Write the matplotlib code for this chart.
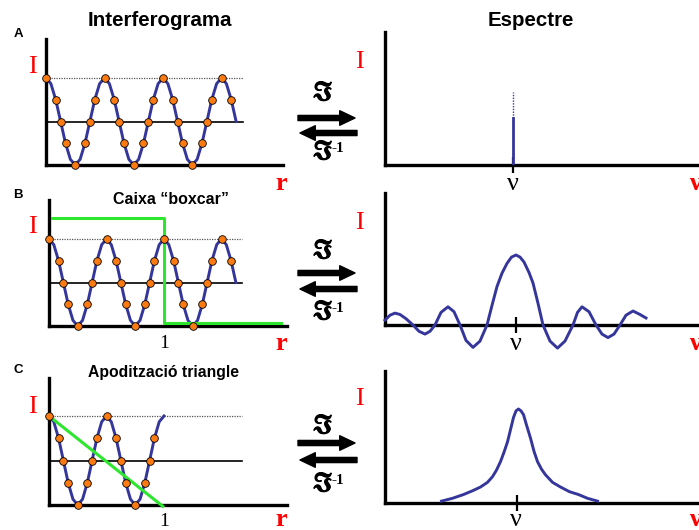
import numpy as np
import matplotlib.pyplot as plt
import matplotlib.patheffects as pe

plt.rcParams['mathtext.fontset'] = 'stix'

W, H = 699, 530

# Interferogrames (I en funció de r)
wave_level_ab = [2, 1.87, 1.5, 1, 0.5, 0.13, 0, 0.13, 0.5, 1, 1.5, 1.87] * 3 + [2, 1.87, 1.5, 1]
wave_r_ab = np.linspace(0, 1.625, len(wave_level_ab))
wave_level_c = [2, 1.87, 1.5, 1, 0.5, 0.13, 0, 0.13, 0.5, 1, 1.5, 1.87] * 2 + [2]
wave_r_c = np.linspace(0, 1.0, len(wave_level_c))

dot_r_ab = [0, 0.083, 0.125, 0.167, 0.25, 0.333, 0.375, 0.417,
            0.5, 0.583, 0.625, 0.667, 0.75, 0.833, 0.875, 0.917,
            1.0, 1.083, 1.125, 1.167, 1.25, 1.333, 1.375, 1.417,
            1.5, 1.583]
dot_level_ab = [2, 1.5, 1, 0.5, 0, 0.5, 1, 1.5] * 3 + [2, 1.5]
dot_r_c = dot_r_ab[:16]
dot_level_c = dot_level_ab[:16]

ref_r_end = 1.68

# funcions d'apodització
box_r = [0.03, 1.0, 1.0, 2.02]
box_level = [2.48, 2.48, 0.07, 0.07]
tri_r = [0, 0.99]
tri_level = [2.0, -0.03]

# Espectres
spike_solid = 0.67
spike_top = 1.04

sinc_nu = [-13.1, -12.6, -12.1, -11.6, -11.0, -10.3, -9.7, -9.1, -8.6, -8.1,
           -7.5, -6.8, -6.2, -5.6, -5.0, -4.3, -3.6, -2.9, -2.4, -1.9,
           -1.4, -0.9, -0.45, 0.0, 0.4, 0.8, 1.3, 1.7, 2.2, 2.7,
           3.4, 4.15, 4.9, 5.7, 6.15, 6.6, 7.3, 8.0, 8.6, 9.2,
           9.8, 10.4, 11.0, 11.7, 12.4, 13.0]
sinc_int = [0.07, 0.14, 0.17, 0.15, 0.09, 0.0, -0.09, -0.13, -0.09, 0.0,
            0.18, 0.26, 0.19, 0.0, -0.22, -0.32, -0.23, 0.0, 0.28, 0.55,
            0.74, 0.88, 0.97, 1.0, 0.97, 0.9, 0.75, 0.6, 0.31, 0.0,
            -0.23, -0.33, -0.23, 0.0, 0.18, 0.26, 0.19, 0.0, -0.13, -0.18,
            -0.13, 0.0, 0.14, 0.20, 0.15, 0.10]

lor_nu = [-7.5, -6.4, -5.3, -4.4, -3.6, -2.9, -2.4, -2.0, -1.6, -1.25,
          -0.9, -0.6, -0.3, -0.05, 0.2, 0.45, 0.7, 1.0, 1.4, 1.75,
          2.1, 2.5, 2.9, 3.6, 4.4, 5.3, 6.2, 7.1, 8.1]
lor_int = [0.02, 0.05, 0.09, 0.13, 0.17, 0.22, 0.28, 0.35, 0.44, 0.54,
           0.65, 0.78, 0.91, 0.98, 1.0, 0.98, 0.94, 0.83, 0.69, 0.55,
           0.44, 0.36, 0.30, 0.22, 0.17, 0.12, 0.09, 0.05, 0.02]

BLUE = '#35369b'
ORANGE = '#fb7a12'
GREEN = '#2ee62e'
RED = '#ff0000'


def fx(x):
    return x / W


def fy(y):
    return 1 - y / H


def make_axes(fig, x0, y_axis, x1, y_top):
    ax = fig.add_axes([fx(x0), fy(y_axis), (x1 - x0) / W, (y_axis - y_top) / H])
    ax.patch.set_visible(False)
    for s in ['top', 'right']:
        ax.spines[s].set_visible(False)
    for s in ['left', 'bottom']:
        ax.spines[s].set_linewidth(2.4)
    ax.set_yticks([])
    return ax


fig = plt.figure(figsize=(W / 100, H / 100), dpi=100)

# ---- columna esquerra ----
left_boxes = [(46, 165, 283, 39, 117, 43.5), (49, 326, 287, 200, 115, 43.5), (49, 505, 287, 378, 115, 44.5)]
for k, (x0, ya, x1, yt, sx, sy) in enumerate(left_boxes):
    ax = make_axes(fig, x0, ya, x1, yt)
    ax.set_xlim(0, (x1 - x0) / sx)
    ax.set_ylim(0, (ya - yt) / sy)
    ax.set_xticks([])
    ax.plot([0, ref_r_end], [2, 2], color='#555555', lw=0.9, ls=(0, (1, 1)), zorder=1)
    ax.plot([0, ref_r_end], [1, 1], color='black', lw=1.2, zorder=1)
    if k < 2:
        wr, wl, dr, dl = wave_r_ab, wave_level_ab, dot_r_ab, dot_level_ab
    else:
        wr, wl, dr, dl = wave_r_c, wave_level_c, dot_r_c, dot_level_c
    ax.plot(wr, wl, color=BLUE, lw=2.1, zorder=2, clip_on=False)
    if k == 1:
        ax.plot(box_r, box_level, color=GREEN, lw=2.2, zorder=3, clip_on=False)
    if k == 2:
        ax.plot(tri_r, tri_level, color=GREEN, lw=2.2, zorder=3, clip_on=False)
    ax.plot(dr, dl, 'o', ms=5.5, mfc=ORANGE, mec='black', mew=0.6, zorder=4, clip_on=False)

# ---- columna dreta ----
right_boxes = [(385, 165, 699, 32, 513, 70), (385, 325, 699, 193, 516, 70), (385, 503, 699, 371, 516.5, 94)]
for k, (x0, ya, x1, yt, xc, sy) in enumerate(right_boxes):
    ax = make_axes(fig, x0, ya, x1, yt)
    ax.set_xlim((x0 - xc) / 10, (x1 - xc) / 10)
    ax.set_ylim(0, (ya - yt) / sy)
    ax.set_xticks([0])
    ax.tick_params(axis='x', direction='inout', length=11, width=1.6, labelbottom=False)
    if k == 0:
        ax.plot([0, 0], [0, spike_solid], color=BLUE, lw=2, zorder=3)
        ax.plot([0, 0], [spike_solid, spike_top], color=BLUE, lw=1, ls=(0, (1, 1)), zorder=3)
    elif k == 1:
        ax.plot(sinc_nu, sinc_int, color=BLUE, lw=2.1, clip_on=False, zorder=3)
    else:
        ax.plot(lor_nu, lor_int, color=BLUE, lw=2.1, clip_on=False, zorder=3)

# ---- textos ----
title_kw = dict(family='Liberation Sans', weight='bold', ha='center', va='center')
fig.text(fx(160), fy(20), 'Interferograma', fontsize=14.8, **title_kw)
fig.text(fx(531), fy(20), 'Espectre', fontsize=14.8, **title_kw)
fig.text(fx(171), fy(199), 'Caixa \u201cboxcar\u201d', fontsize=11.5, **title_kw)
fig.text(fx(163), fy(373), 'Apodització triangle', fontsize=11.3, **title_kw)
for lab, y in [('A', 34), ('B', 195), ('C', 370)]:
    fig.text(fx(18), fy(y), lab, fontsize=9.5, **title_kw)

serif = dict(family='Liberation Serif', ha='center', va='center')
for x, y in [(32, 67), (32, 227), (32, 407), (359, 62), (359, 223), (359, 399)]:
    fig.text(fx(x), fy(y), 'I', color=RED, fontsize=19, **serif)
for y in [183, 344, 519]:
    fig.text(fx(281), fy(y), 'r', color=RED, fontsize=19, weight='bold', **serif)
    fig.text(fx(689), fy(y), '\u03bd', color=RED, fontsize=19, weight='bold',
             family='Liberation Serif', ha='left', va='center')
for x, y in [(513, 184), (516, 344), (516, 520)]:
    fig.text(fx(x), fy(y), '\u03bd', color='black', fontsize=19, **serif)
for y in [343, 521]:
    fig.text(fx(164), fy(y), '1', color='black', fontsize=14, **serif)

# ---- fletxes de transformada ----
arrow_style = 'simple,head_length=1.1,head_width=1.05,tail_width=0.37'
bold_fx = [pe.withStroke(linewidth=0.8, foreground='black')]
# (fletxa dreta, fletxa esquerra, base de F, base de F^-1)
rows = [(118, 133, 100, 159), (273, 289, 258, 319), (443, 460, 433, 491)]
for yr, yl, yf, yi in rows:
    fig.text(fx(323), fy(yf), r'$\mathfrak{I}$', fontsize=19, ha='center', va='baseline',
             path_effects=bold_fx)
    fig.text(fx(323), fy(yi), r'$\mathfrak{I}$', fontsize=19, ha='center', va='baseline',
             path_effects=bold_fx)
    fig.text(fx(332), fy(yi - 7), '-1', fontsize=11, weight='bold',
             family='Liberation Serif', ha='left', va='baseline')
    plt.annotate('', xy=(fx(355), fy(yr)), xytext=(fx(298), fy(yr)),
                 xycoords='figure fraction', textcoords='figure fraction',
                 arrowprops=dict(arrowstyle=arrow_style, mutation_scale=10,
                                 color='black', shrinkA=0, shrinkB=0))
    plt.annotate('', xy=(fx(300), fy(yl)), xytext=(fx(357), fy(yl)),
                 xycoords='figure fraction', textcoords='figure fraction',
                 arrowprops=dict(arrowstyle=arrow_style, mutation_scale=10,
                                 color='black', shrinkA=0, shrinkB=0))

fig.savefig('out.png', dpi=100)
